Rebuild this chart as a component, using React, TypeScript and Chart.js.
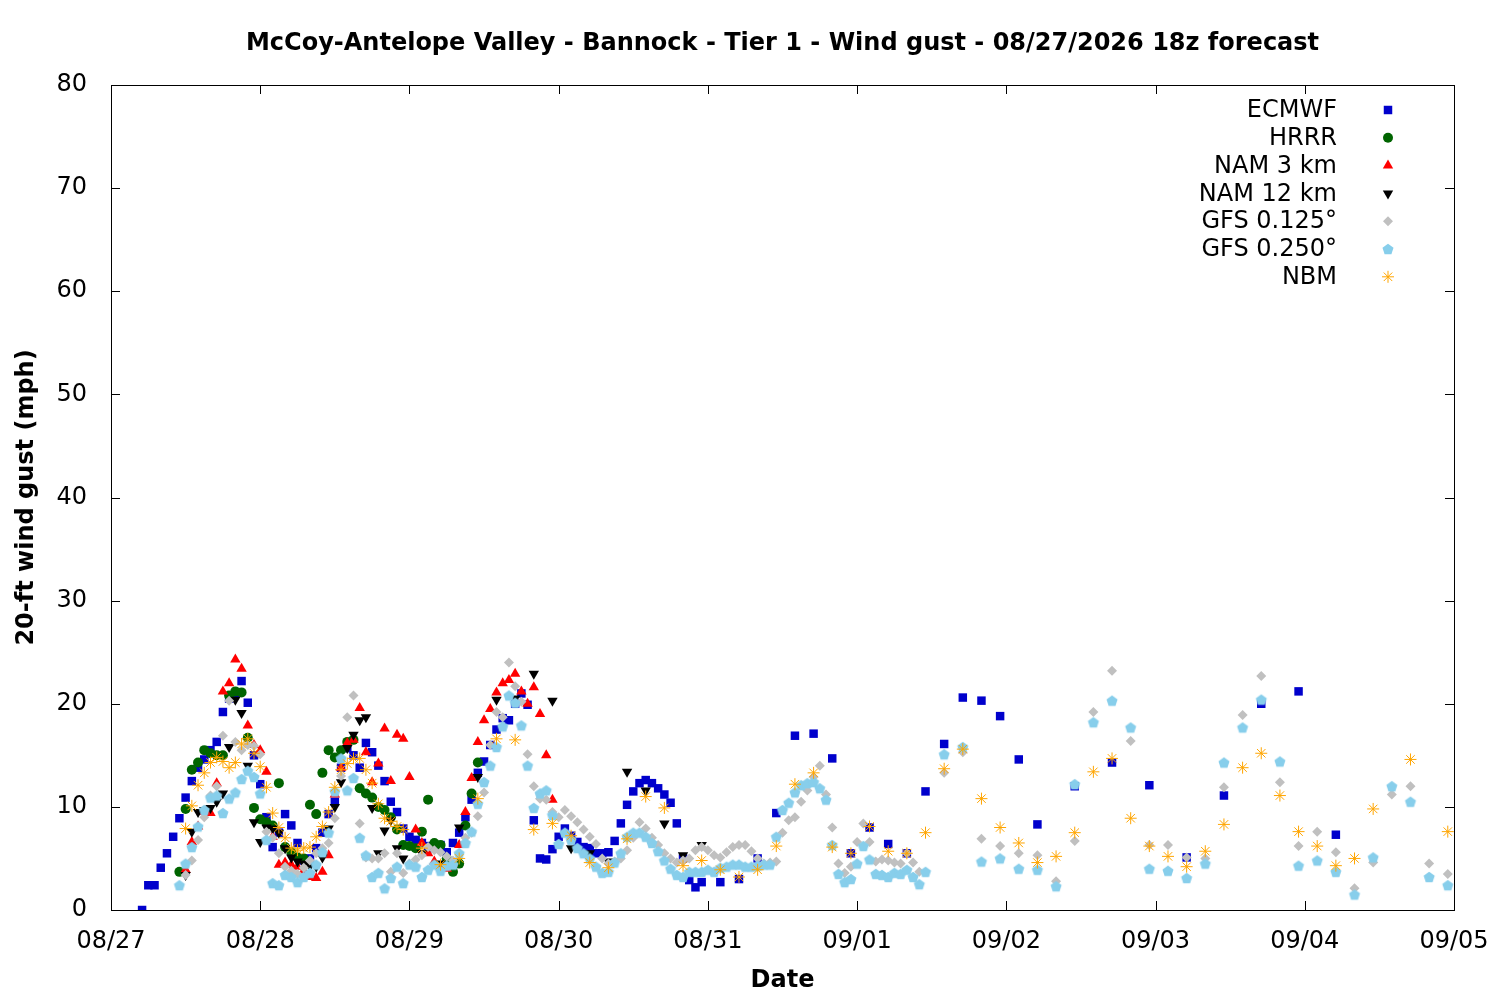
import { useEffect, useRef } from "react"
import { Chart, registerables } from "chart.js"
import type { Plugin } from "chart.js"
import { drawPoint } from "chart.js/helpers"

Chart.register(...registerables)

// x values are hours after 08/27 00:00 (local), one tick per day
const dateLabels = ["08/27", "08/28", "08/29", "08/30", "08/31", "09/01", "09/02", "09/03", "09/04", "09/05"]

// ECMWF: hourly from h5, 3-hourly from h98, 6-hourly from h155
const ecmwfHourly = [
  0, 2.4, 2.4, 4.1, 5.5, 7.1, 8.9, 10.9, 12.5, 13.8,
  14.6, 15.5, 16.3, 19.2, 20.5, 21.0, 22.2, 20.1, 15.0, 12.2,
  9.0, 6.1, 7.5, 9.3, 8.2, 6.5, 4.8, 5.0, 6.0, 7.5,
  9.3, 10.5, 13.8, 15.7, 15.0, 13.8, 16.2, 15.3, 14.0, 12.5,
  10.5, 9.5, 7.9, 7.1, 6.8, 6.5, 6.2, 6.0, 6.3, 5.6,
  6.5, 7.5, 9.0, 10.7, 13.3, 14.4, 16.0, 17.5, 18.6, 18.4,
  20.0, 21.0, 19.9, 8.7, 5.0, 4.9, 5.9, 7.1, 7.9, 7.2,
  6.6, 6.1, 6.0, 5.5, 5.5, 5.6, 6.7, 8.4, 10.2, 11.5,
  12.3, 12.6, 12.3, 11.8, 11.2, 10.4, 8.4, 5.0, 2.9, 2.2,
  2.7,
]
const ecmwf3h = [2.7, 3.0, 5.0, 9.4, 16.9, 17.1, 14.7, 5.5, 8.0, 6.4, 5.5, 11.5, 16.1, 20.6, 20.3, 18.8, 14.6, 8.3]
const ecmwf6h = [12.0, 14.3, 12.1, 5.1, 11.1, 20.0, 21.2, 7.3]

// HRRR: hourly h11-h59
const hrrrHourly = [
  3.7, 9.8, 13.6, 14.3, 15.5, 15.2, 15.0, 15.0, 20.8, 21.2,
  21.1, 16.7, 9.9, 8.8, 8.5, 8.2, 12.3, 6.1, 5.6, 5.1,
  5.0, 10.2, 9.3, 13.3, 15.5, 14.8, 15.5, 16.3, 16.5, 11.8,
  11.3, 10.9, 10.0, 9.7, 9.0, 7.8, 6.3, 6.2, 6.0, 7.6,
  10.7, 6.5, 6.3, 5.0, 3.7, 4.5, 8.2, 11.3, 14.3,
]

// NAM 3 km: hourly h12-h71
const nam3Hourly = [
  3.9, 6.6, 8.1, 9.5, 9.4, 12.3, 21.2, 22.0, 24.3, 23.4,
  17.9, 16.0, 15.5, 13.4, 7.1, 4.4, 4.6, 4.4, 4.2, 3.8,
  3.2, 3.1, 3.7, 5.3, 11.2, 13.8, 16.2, 16.5, 19.6, 15.3,
  12.4, 14.2, 17.6, 12.5, 17.0, 16.6, 12.9, 7.8, 6.5, 5.5,
  4.7, 4.2, 4.0, 4.5, 6.3, 9.5, 12.8, 16.3, 18.4, 19.5,
  21.1, 22.0, 22.3, 22.9, 21.2, 20.0, 21.6, 19.0, 15.0, 10.7,
]

// NAM 12 km: hourly h12-h47, 3-hourly h50-h95
const nam12Hourly = [
  3.4, 7.6, 9.5, 9.7, 9.9, 10.5, 11.3, 15.8, 20.4, 19.1,
  14.0, 8.5, 6.6, 8.0, 7.9, 7.5, 6.0, 5.1, 4.7, 4.5,
  4.3, 4.2, 5.1, 7.9, 10.0, 12.4, 15.7, 17.0, 18.4, 18.7,
  9.9, 5.5, 7.7, 8.7, 6.0, 5.0,
]
const nam12_3h = [5.5, 4.5, 8.0, 12.9, 20.4, 20.5, 22.9, 20.3, 6.0, 5.5, 4.7, 13.4, 11.6, 8.4, 5.3, 6.3]

// GFS 0.125: hourly h12-h130, 3-hourly h134-h215
const gfs125Hourly = [
  3.4, 4.8, 6.8, 9.0, 11.1, 12.0, 16.9, 20.3, 16.3, 15.5,
  16.0, 15.9, 15.1, 7.6, 7.0, 5.5, 4.2, 3.8, 3.5, 4.1,
  4.8, 5.5, 6.0, 6.5, 8.9, 13.0, 18.7, 20.8, 8.4, 5.1,
  5.0, 5.0, 5.5, 3.7, 5.5, 3.6, 4.5, 4.9, 5.3, 6.1,
  5.8, 5.6, 5.2, 4.8, 5.5, 7.0, 7.5, 9.1, 11.4, 16.0,
  19.2, 18.7, 24.0, 21.7, 20.2, 15.1, 12.0, 10.8, 10.7, 9.5,
  9.0, 9.7, 9.1, 8.5, 7.8, 7.1, 6.4, 5.0, 4.5, 4.7,
  5.0, 5.8, 7.0, 8.5, 7.9, 7.0, 6.3, 5.5, 5.0, 4.6,
  4.8, 5.0, 5.8, 6.1, 5.8, 5.3, 5.1, 5.6, 6.1, 6.3,
  6.3, 5.7, 5.0, 4.5, 4.6, 4.7, 7.5, 8.7, 9.0, 10.5,
  11.6, 12.9, 14.0, 11.2, 8.0, 4.5, 3.6, 4.2, 6.6, 8.4,
  6.6, 4.7, 4.9, 4.8, 4.6, 4.5, 5.5, 4.6, 3.7,
]
const gfs125_3h = [
  13.3, 15.3, 6.9, 6.2, 5.5, 5.3, 2.8, 6.7, 19.2, 23.2,
  16.4, 6.3, 6.3, 5.1, 5.0, 11.9, 18.9, 22.7, 12.4, 6.2,
  7.6, 5.6, 2.1, 4.6, 11.2, 12.0, 4.5, 3.5,
]

// GFS 0.250: hourly h11-h131, 3-hourly h134-h215
const gfs250Hourly = [
  2.4, 4.5, 6.1, 8.1, 9.7, 10.9, 11.1, 9.4, 10.8, 11.4,
  12.7, 13.5, 12.9, 11.3, 6.8, 2.6, 2.4, 3.4, 3.2, 2.7,
  3.2, 3.6, 4.4, 5.6, 7.5, 11.5, 14.7, 11.6, 12.8, 7.0,
  5.3, 3.2, 3.6, 2.1, 3.1, 4.2, 2.6, 4.4, 4.2, 3.2,
  3.9, 4.4, 3.8, 4.3, 4.4, 5.5, 6.5, 7.6, 10.3, 12.4,
  14.0, 15.8, 17.8, 20.8, 20.1, 17.9, 14.0, 9.9, 11.3, 11.6,
  9.2, 6.4, 7.5, 6.8, 6.0, 5.5, 5.0, 4.2, 3.6, 3.7,
  4.6, 5.5, 7.1, 7.5, 7.5, 7.1, 6.5, 5.7, 4.8, 4.0,
  3.4, 3.2, 3.7, 3.7, 3.7, 3.9, 3.7, 4.1, 4.2, 4.4,
  4.4, 4.2, 4.2, 4.3, 4.4, 4.4, 7.1, 9.7, 10.4, 11.4,
  12.1, 12.3, 12.4, 11.8, 10.7, 6.3, 3.5, 2.7, 3.0, 4.5,
  6.2, 4.9, 3.5, 3.4, 3.2, 3.6, 3.5, 3.9, 3.2, 2.5,
  3.7,
]
const gfs250_3h = [
  15.1, 15.8, 4.7, 5.0, 4.0, 3.9, 2.3, 12.2, 18.2, 20.3,
  17.7, 4.0, 3.8, 3.1, 4.5, 14.3, 17.7, 20.4, 14.4, 4.3,
  4.8, 3.7, 1.5, 5.1, 12.0, 10.5, 3.2, 2.4,
]

// NBM: hourly h12-h47, 3-hourly h50-h203, 6-hourly h209-h215
const nbmHourly = [
  7.9, 10.1, 12.1, 13.3, 14.3, 14.8, 14.4, 13.8, 14.3, 16.1,
  16.6, 15.2, 13.9, 11.9, 9.4, 8.0, 7.0, 6.0, 5.8, 6.0,
  6.1, 7.1, 8.1, 9.5, 11.9, 13.6, 14.2, 14.7, 14.7, 13.6,
  12.3, 10.3, 8.9, 8.6, 8.1, 7.8,
]
const nbm3h = [
  6.0, 4.4, 5.0, 10.8, 16.6, 16.5, 7.8, 8.4, 7.2, 4.6,
  4.1, 6.9, 11.0, 9.9, 4.3, 4.8, 3.9, 3.2, 3.9, 6.2,
  12.2, 13.3, 6.1, 5.5, 8.1, 5.7, 5.5, 7.5, 13.7, 15.6,
  10.8, 8.0, 6.5, 4.6, 5.2, 7.5, 13.4, 14.7, 8.9, 6.2,
  5.2, 4.2, 5.7, 8.3, 13.8, 15.2, 11.1, 7.6, 6.2, 4.3,
  5.0, 9.8,
]
const nbm6h = [14.6, 7.6]

function seg(start: number, step: number, values: number[]) {
  return values.map((v, i) => ({ x: start + i * step, y: v }))
}

function makePentagon(color: string, r: number) {
  const size = Math.ceil(r * 2) + 2
  const c = document.createElement("canvas")
  c.width = size
  c.height = size
  const ctx = c.getContext("2d")
  if (ctx) {
    ctx.fillStyle = color
    ctx.beginPath()
    for (let k = 0; k < 5; k++) {
      const a = -Math.PI / 2 + (k * 2 * Math.PI) / 5
      const px = size / 2 + r * Math.cos(a)
      const py = size / 2 + r * Math.sin(a) + r * 0.1
      if (k === 0) ctx.moveTo(px, py)
      else ctx.lineTo(px, py)
    }
    ctx.closePath()
    ctx.fill()
  }
  return c
}

const FONT = "'DejaVu Sans', sans-serif"
const SIZE = 24

// border with inward ticks on all four sides, like gnuplot
const framePlugin: Plugin<"scatter"> = {
  id: "frame",
  beforeDatasetsDraw(chart) {
    const { ctx, chartArea: a, scales } = chart
    const tick = 9
    ctx.save()
    ctx.strokeStyle = "#000"
    ctx.lineWidth = 1
    ctx.strokeRect(a.left + 0.5, a.top + 0.5, a.right - a.left, a.bottom - a.top)
    ctx.beginPath()
    scales.x.ticks.forEach((t) => {
      const px = Math.round(scales.x.getPixelForValue(t.value)) + 0.5
      ctx.moveTo(px, a.bottom)
      ctx.lineTo(px, a.bottom - tick)
      ctx.moveTo(px, a.top)
      ctx.lineTo(px, a.top + tick)
    })
    scales.y.ticks.forEach((t) => {
      const py = Math.round(scales.y.getPixelForValue(t.value)) + 0.5
      ctx.moveTo(a.left, py)
      ctx.lineTo(a.left + tick, py)
      ctx.moveTo(a.right, py)
      ctx.lineTo(a.right - tick, py)
    })
    ctx.stroke()
    ctx.restore()
  },
}

// key in the top right: right-aligned names, marker to their right
const keyPlugin: Plugin<"scatter"> = {
  id: "key",
  afterDraw(chart) {
    const { ctx } = chart
    ctx.save()
    ctx.font = `${SIZE}px ${FONT}`
    ctx.textAlign = "right"
    ctx.textBaseline = "middle"
    chart.data.datasets.forEach((ds: any, i) => {
      const y = 110 + i * 27.8
      ctx.fillStyle = "#000"
      ctx.fillText(ds.label, 1337, y + 1)
      ctx.fillStyle = ds.backgroundColor
      ctx.strokeStyle = ds.borderColor
      ctx.lineWidth = ds.borderWidth || 1
      drawPoint(
        ctx,
        { pointStyle: ds.pointStyle, radius: ds.pointRadius, rotation: ds.rotation || 0, borderWidth: ds.borderWidth || 0 },
        1388,
        y
      )
    })
    ctx.restore()
  },
}

export default function App() {
  const canvasRef = useRef<HTMLCanvasElement>(null)
  const chartRef = useRef<Chart | null>(null)

  useEffect(() => {
    if (!canvasRef.current) return
    if (chartRef.current) chartRef.current.destroy()

    const pentagon = makePentagon("#87ceeb", 5.8)

    chartRef.current = new Chart(canvasRef.current, {
      type: "scatter",
      data: {
        datasets: [
          {
            label: "ECMWF",
            data: [...seg(5, 1, ecmwfHourly), ...seg(98, 3, ecmwf3h), ...seg(155, 6, ecmwf6h)],
            pointStyle: "rect",
            pointRadius: 6,
            backgroundColor: "#0000cc",
            borderColor: "#0000cc",
            borderWidth: 0,
            order: 7,
          },
          {
            label: "HRRR",
            data: seg(11, 1, hrrrHourly),
            pointStyle: "circle",
            pointRadius: 5,
            backgroundColor: "#006400",
            borderColor: "#006400",
            borderWidth: 0,
            order: 6,
          },
          {
            label: "NAM 3 km",
            data: seg(12, 1, nam3Hourly),
            pointStyle: "triangle",
            pointRadius: 6,
            backgroundColor: "#ff0000",
            borderColor: "#ff0000",
            borderWidth: 0,
            order: 5,
          },
          {
            label: "NAM 12 km",
            data: [...seg(12, 1, nam12Hourly), ...seg(50, 3, nam12_3h)],
            pointStyle: "triangle",
            rotation: 180,
            pointRadius: 6,
            backgroundColor: "#000000",
            borderColor: "#000000",
            borderWidth: 0,
            order: 4,
          },
          {
            label: "GFS 0.125°",
            data: [...seg(12, 1, gfs125Hourly), ...seg(134, 3, gfs125_3h)],
            pointStyle: "rectRot",
            pointRadius: 5,
            backgroundColor: "#c0c0c0",
            borderColor: "#c0c0c0",
            borderWidth: 0,
            order: 3,
          },
          {
            label: "GFS 0.250°",
            data: [...seg(11, 1, gfs250Hourly), ...seg(134, 3, gfs250_3h)],
            pointStyle: pentagon,
            pointRadius: 6,
            backgroundColor: "#87ceeb",
            borderColor: "#87ceeb",
            borderWidth: 0,
            order: 2,
          },
          {
            label: "NBM",
            data: [...seg(12, 1, nbmHourly), ...seg(50, 3, nbm3h), ...seg(209, 6, nbm6h)],
            pointStyle: "star",
            pointRadius: 6,
            backgroundColor: "#ffa500",
            borderColor: "#ffa500",
            borderWidth: 1,
            order: 1,
          },
        ] as any,
      },
      options: {
        animation: false,
        responsive: false,
        events: [],
        layout: { padding: { left: 0, right: 46, top: 0, bottom: 0 } },
        plugins: {
          legend: { display: false },
          tooltip: { enabled: false },
          title: {
            display: true,
            fullSize: false,
            text: "McCoy-Antelope Valley - Bannock - Tier 1 - Wind gust - 08/27/2026 18z forecast",
            color: "#000",
            font: { family: FONT, size: SIZE, weight: "bold", lineHeight: 1.2 },
            padding: { top: 29, bottom: 27.2 },
          },
        },
        scales: {
          x: {
            type: "linear",
            min: 0,
            max: 216,
            grid: { display: false },
            border: { display: false },
            ticks: {
              stepSize: 24,
              autoSkip: false,
              maxRotation: 0,
              padding: 9,
              color: "#000",
              font: { family: FONT, size: SIZE },
              callback: (value) => dateLabels[Math.round(Number(value) / 24)] ?? "",
            },
            title: {
              display: true,
              text: "Date",
              color: "#000",
              font: { family: FONT, size: SIZE, weight: "bold", lineHeight: 1.2 },
              padding: { top: 0, bottom: 5 },
            },
            afterFit: (scale) => {
              scale.height = 90
            },
          },
          y: {
            min: 0,
            max: 80,
            grid: { display: false },
            border: { display: false },
            ticks: {
              stepSize: 10,
              padding: 16,
              color: "#000",
              font: { family: FONT, size: SIZE },
            },
            title: {
              display: true,
              text: "20-ft wind gust (mph)",
              color: "#000",
              font: { family: FONT, size: SIZE, weight: "bold", lineHeight: 1.2 },
              padding: { top: 12.6, bottom: 0 },
            },
            afterFit: (scale) => {
              scale.width = 111
            },
          },
        },
      },
      plugins: [framePlugin, keyPlugin],
    })

    return () => {
      if (chartRef.current) {
        chartRef.current.destroy()
        chartRef.current = null
      }
    }
  }, [])

  return (
    <div style={{ position: "absolute", left: 0, top: 0, width: 1500, height: 1000, background: "#fff" }}>
      <canvas ref={canvasRef} width={1500} height={1000}></canvas>
    </div>
  )
}
